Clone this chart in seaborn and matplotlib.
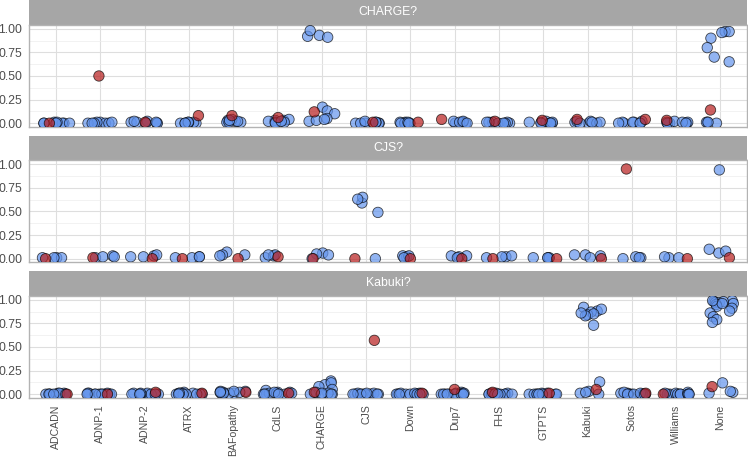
import numpy as np
import pandas as pd
import matplotlib
matplotlib.use("Agg")
import matplotlib.pyplot as plt
import seaborn as sns

# categories on the x axis and the three facet panels
syndromes = ["ADCADN", "ADNP-1", "ADNP-2", "ATRX", "BAFopathy", "CdLS", "CHARGE", "CJS",
             "Down", "Dup7", "FHS", "GTPTS", "Kabuki", "Sotos", "Williams", "None"]
panels = ["CHARGE?", "CJS?", "Kabuki?"]

# scores, one list per syndrome (blue = other samples, red = one per syndrome)
charge_blue = [
    [0.0, 0.0, 0.01, 0.0, 0.0, 0.01, 0.0, 0.0],
    [0.01, 0.0, 0.0, 0.01, 0.0, 0.0, 0.01, 0.0],
    [0.0, 0.01, 0.02, 0.0, 0.01, 0.0, 0.01, 0.02],
    [0.0, 0.01, 0.0, 0.0, 0.01, 0.0, 0.01, 0.0],
    [0.01, 0.03, 0.02, 0.01, 0.04, 0.01, 0.02, 0.03],
    [0.03, 0.03, 0.04, 0.02, 0.01, 0.01, 0.0, 0.02],
    [0.93, 0.92, 0.98, 0.91, 0.17, 0.13, 0.10, 0.05, 0.02, 0.03, 0.04],
    [0.0, 0.0, 0.01, 0.0, 0.01, 0.0, 0.0, 0.02],
    [0.0, 0.01, 0.0, 0.01, 0.0, 0.0, 0.01, 0.0],
    [0.01, 0.0, 0.02, 0.01, 0.0, 0.01, 0.02, 0.0],
    [0.0, 0.01, 0.0, 0.01, 0.0, 0.01, 0.0, 0.01],
    [0.0, 0.01, 0.02, 0.0, 0.01, 0.0, 0.01, 0.0],
    [0.01, 0.0, 0.02, 0.0, 0.01, 0.02, 0.0, 0.01],
    [0.0, 0.01, 0.01, 0.0, 0.02, 0.0, 0.01, 0.0],
    [0.0, 0.01, 0.0, 0.01, 0.0, 0.02, 0.01, 0.0],
    [0.97, 0.97, 0.96, 0.90, 0.80, 0.70, 0.65, 0.01, 0.01, 0.0, 0.01],
]
charge_red = [0.0, 0.5, 0.01, 0.08, 0.08, 0.06, 0.12, 0.01, 0.01, 0.04, 0.02, 0.03, 0.04, 0.04, 0.03, 0.14]

cjs_blue = [
    [0.01, 0.01, 0.01, 0.01],
    [0.01, 0.02, 0.03, 0.02],
    [0.02, 0.03, 0.04, 0.02],
    [0.02, 0.01, 0.02, 0.01],
    [0.07, 0.04, 0.04, 0.03],
    [0.01, 0.03, 0.04, 0.04],
    [0.06, 0.05, 0.04, 0.0],
    [0.59, 0.65, 0.63, 0.49, 0.0],
    [0.02, 0.03, 0.03, 0.01],
    [0.03, 0.03, 0.02, 0.01],
    [0.01, 0.02, 0.03, 0.02],
    [0.01, 0.01, 0.01, 0.01],
    [0.03, 0.04, 0.01, 0.04],
    [0.01, 0.02, 0.01, 0.0],
    [0.01, 0.01, 0.02],
    [0.94, 0.06, 0.10, 0.08],
]
cjs_red = [0.0, 0.01, 0.0, 0.0, 0.0, 0.02, 0.0, 0.0, 0.0, 0.0, 0.0, 0.0, 0.0, 0.95, 0.0, 0.01]

kabuki_blue = [
    [0.0, 0.0, 0.01, 0.0, 0.0, 0.01, 0.0, 0.0, 0.01, 0.0, 0.0, 0.0],
    [0.0, 0.01, 0.0, 0.0, 0.01, 0.0, 0.0, 0.0, 0.01, 0.0, 0.0, 0.0],
    [0.0, 0.0, 0.01, 0.0, 0.0, 0.01, 0.0, 0.0, 0.0, 0.01, 0.0, 0.0],
    [0.01, 0.02, 0.0, 0.01, 0.0, 0.0, 0.01, 0.0, 0.0, 0.01, 0.0, 0.0],
    [0.01, 0.02, 0.03, 0.01, 0.02, 0.03, 0.01, 0.0, 0.02, 0.01, 0.03, 0.02],
    [0.04, 0.02, 0.0, 0.01, 0.0, 0.02, 0.01, 0.0, 0.01, 0.0, 0.02, 0.0],
    [0.14, 0.10, 0.08, 0.12, 0.05, 0.0, 0.01, 0.0, 0.02, 0.0, 0.01, 0.0],
    [0.0, 0.0, 0.01, 0.0, 0.0, 0.0, 0.01, 0.0, 0.0, 0.0, 0.01, 0.0],
    [0.0, 0.01, 0.0, 0.0, 0.01, 0.0, 0.0, 0.0, 0.01, 0.0, 0.0, 0.0],
    [0.0, 0.01, 0.0, 0.02, 0.0, 0.0, 0.01, 0.0, 0.0, 0.01, 0.0, 0.0],
    [0.0, 0.0, 0.01, 0.0, 0.0, 0.01, 0.0, 0.0, 0.0, 0.01, 0.0, 0.0],
    [0.0, 0.0, 0.0, 0.01, 0.0, 0.0, 0.0, 0.01, 0.0, 0.0, 0.0, 0.0],
    [0.88, 0.92, 0.90, 0.87, 0.84, 0.85, 0.83, 0.73, 0.86, 0.13, 0.03, 0.01, 0.02, 0.0],
    [0.0, 0.01, 0.0, 0.0, 0.01, 0.0, 0.0, 0.02, 0.0, 0.0, 0.01, 0.0],
    [0.0, 0.0, 0.01, 0.0, 0.0, 0.01, 0.0, 0.0, 0.02, 0.0, 0.0, 0.0],
    [0.99, 0.98, 0.97, 0.97, 0.96, 0.98, 0.95, 0.93, 0.91, 0.88, 0.86, 0.82, 0.79, 0.76,
     0.96, 0.99, 0.12, 0.02, 0.03, 0.01],
]
kabuki_red = [0.0, 0.0, 0.02, 0.01, 0.02, 0.01, 0.02, 0.57, 0.01, 0.05, 0.02, 0.01, 0.05, 0.01, 0.0, 0.08]

y_ticks = [0.0, 0.25, 0.5, 0.75, 1.0]
y_tick_labels = ["0.00", "0.25", "0.50", "0.75", "1.00"]


def build_frame():
    rows = []
    for panel, blue, red in zip(panels, [charge_blue, cjs_blue, kabuki_blue], [charge_red, cjs_red, kabuki_red]):
        for syn, b_vals, r_val in zip(syndromes, blue, red):
            for v in b_vals:
                rows.append((panel, syn, "other", v))
            rows.append((panel, syn, "target", r_val))
    return pd.DataFrame(rows, columns=["panel", "syndrome", "group", "score"])


def main():
    df = build_frame()

    sns.set_theme(style="white")
    plt.rcParams["font.family"] = ["Liberation Sans", "DejaVu Sans"]

    fig = plt.figure(figsize=(7.48, 4.63), dpi=100)
    W, H = 748.0, 463.0
    left_px, right_px = 29.4, 747.0

    # vertical layout of strips and panels in pixels from the top
    strip_tops = [0.0, 135.5, 271.0]
    strip_h, panel_h = 24.5, 102.0

    colors = {"other": "#6495ED", "target": "#B71C1C"}
    np.random.seed(7)

    for i, panel in enumerate(panels):
        top = strip_tops[i]
        # strip header
        sax = fig.add_axes([left_px / W, 1 - (top + strip_h) / H, (right_px - left_px) / W, strip_h / H])
        sax.set_facecolor("#A6A6A6")
        sax.set_xticks([])
        sax.set_yticks([])
        for s in sax.spines.values():
            s.set_visible(False)
        sax.text(0.5, 0.5, panel, color="white", fontsize=8.8, ha="center", va="center", transform=sax.transAxes)

        # panel
        ptop = top + strip_h
        ax = fig.add_axes([left_px / W, 1 - (ptop + panel_h) / H, (right_px - left_px) / W, panel_h / H])
        sub = df[df["panel"] == panel]
        sns.stripplot(data=sub, x="syndrome", y="score", hue="group", order=syndromes,
                      hue_order=["other", "target"], palette=colors, jitter=0.32, size=7.5,
                      alpha=0.7, edgecolor="black", linewidth=0.6, legend=False, ax=ax)

        ax.set_xlim(-0.6, len(syndromes) - 0.4)
        ax.set_ylim(-0.035, 1.045)
        ax.set_yticks(y_ticks)
        ax.set_yticklabels(y_tick_labels)
        ax.set_yticks([0.125, 0.375, 0.625, 0.875], minor=True)
        ax.set_xticks(range(len(syndromes)))

        # grid like a light theme
        ax.set_axisbelow(True)
        ax.grid(which="major", axis="both", color="#DEDEDE", linewidth=0.8)
        ax.grid(which="minor", axis="y", color="#EDEDED", linewidth=0.5)
        for s in ax.spines.values():
            s.set_color("#B3B3B3")
            s.set_linewidth(1.0)

        ax.tick_params(axis="y", which="major", length=3, width=0.6, color="#B3B3B3",
                       labelsize=8.8, labelcolor="#4D4D4D", pad=2)
        ax.tick_params(which="minor", length=0)
        ax.set_xlabel("")
        ax.set_ylabel("")

        if i < len(panels) - 1:
            ax.tick_params(axis="x", length=0, labelbottom=False)
        else:
            ax.set_xticklabels(syndromes)
            ax.tick_params(axis="x", length=3, width=0.6, color="#B3B3B3", labelsize=7.6,
                           labelcolor="#4D4D4D", labelrotation=90, pad=2)

    plt.savefig("out.png", dpi=100)


if __name__ == "__main__":
    main()
